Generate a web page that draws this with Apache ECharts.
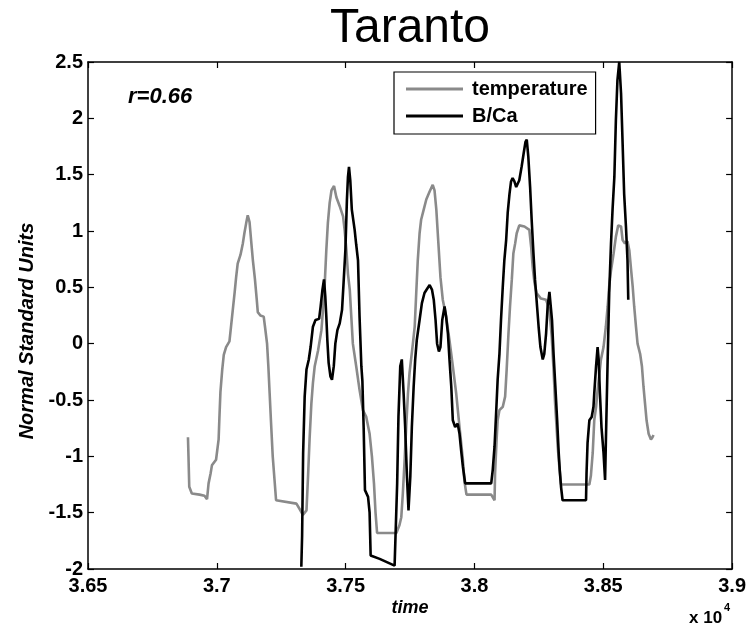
<!DOCTYPE html>
<html>
<head>
<meta charset="utf-8">
<script src="https://cdn.jsdelivr.net/npm/echarts@6/dist/echarts.min.js"></script>
<style>html,body{margin:0;padding:0;background:#fff;}#chart{width:749px;height:630px;}</style>
</head>
<body>
<div id="chart"></div>
<script>
// temperature series (time, normalized value)
const tempTime = [36888,36890,36893,36903,36933,36952,36962,36968,36976,36981,36997,37007,37010,37014,37021,37027,37036,37049,37055,37062,37069,37075,37081,37092,37101,37107,37114,37120,37127,37133,37140,37148,37155,37159,37169,37182,37187,37195,37200,37205,37210,37217,37224,37230,37236,37309,37322,37334,37348,37354,37360,37367,37373,37380,37393,37406,37412,37419,37425,37431,37438,37445,37455,37464,37477,37490,37496,37503,37509,37516,37522,37528,37541,37554,37567,37580,37593,37602,37610,37616,37622,37697,37709,37716,37722,37729,37735,37742,37748,37755,37761,37768,37774,37780,37787,37793,37803,37813,37826,37838,37845,37852,37860,37868,37877,37890,37903,37916,37929,37942,37955,37961,37969,38065,38078,38080,38086,38090,38097,38110,38119,38125,38132,38138,38145,38151,38158,38164,38174,38194,38213,38220,38226,38233,38241,38258,38278,38291,38300,38307,38313,38321,38323,38329,38336,38446,38452,38459,38465,38472,38478,38484,38491,38501,38510,38517,38523,38530,38540,38549,38558,38569,38575,38584,38594,38601,38607,38614,38620,38627,38633,38643,38650,38656,38662,38668,38676,38685,38691,38695];
const tempValue = [-0.83,-1.00,-1.27,-1.33,-1.34,-1.35,-1.38,-1.24,-1.15,-1.08,-1.03,-0.85,-0.66,-0.43,-0.23,-0.10,-0.03,0.02,0.15,0.30,0.45,0.59,0.71,0.79,0.89,0.98,1.07,1.14,1.08,0.92,0.74,0.57,0.39,0.28,0.25,0.24,0.15,0.00,-0.20,-0.44,-0.68,-1.00,-1.21,-1.39,-1.40,-1.42,-1.47,-1.52,-1.48,-1.18,-0.85,-0.53,-0.35,-0.20,-0.06,0.12,0.30,0.54,0.83,1.07,1.25,1.36,1.40,1.30,1.22,1.13,1.01,0.83,0.62,0.48,0.24,0.00,-0.20,-0.41,-0.59,-0.65,-0.80,-1.00,-1.24,-1.50,-1.68,-1.68,-1.61,-1.54,-1.33,-1.03,-0.74,-0.44,-0.26,-0.12,0.00,0.15,0.45,0.74,0.98,1.10,1.19,1.28,1.35,1.41,1.36,1.19,0.89,0.59,0.39,0.24,0.03,-0.20,-0.44,-0.74,-1.03,-1.22,-1.34,-1.34,-1.39,-1.15,-0.85,-0.68,-0.59,-0.56,-0.47,-0.23,0.09,0.33,0.57,0.80,0.89,0.98,1.05,1.04,1.01,0.86,0.68,0.54,0.45,0.40,0.39,0.30,0.06,-0.23,-0.53,-0.83,-0.91,-1.08,-1.25,-1.25,-1.17,-0.97,-0.68,-0.56,-0.41,-0.29,-0.14,-0.03,0.15,0.33,0.51,0.65,0.80,0.95,1.05,1.04,0.92,0.89,0.91,0.83,0.68,0.51,0.33,0.15,0.00,-0.09,-0.20,-0.38,-0.53,-0.68,-0.80,-0.85,-0.83,-0.81];

// B/Ca series (time, normalized value)
const bcaTime = [37328,37331,37335,37341,37348,37357,37364,37373,37383,37397,37403,37410,37416,37421,37425,37429,37434,37441,37447,37454,37460,37468,37477,37486,37492,37499,37505,37509,37513,37518,37524,37535,37541,37548,37554,37561,37565,37570,37575,37587,37593,37597,37632,37690,37695,37700,37705,37712,37718,37725,37731,37738,37744,37751,37757,37764,37770,37776,37787,37796,37806,37817,37826,37835,37842,37849,37855,37862,37868,37875,37884,37890,37897,37903,37910,37916,37925,37935,37942,37948,37955,37964,38065,38071,38078,38084,38090,38097,38103,38110,38116,38123,38129,38136,38142,38148,38155,38162,38168,38174,38183,38191,38198,38203,38209,38216,38222,38229,38235,38243,38249,38256,38265,38271,38278,38284,38291,38297,38301,38307,38314,38321,38327,38331,38336,38342,38433,38435,38439,38446,38455,38462,38465,38472,38478,38482,38487,38493,38501,38507,38510,38517,38523,38530,38536,38543,38549,38555,38562,38569,38575,38581,38588,38594,38597];
const bcaValue = [-1.98,-1.71,-0.97,-0.47,-0.23,-0.14,-0.03,0.15,0.21,0.22,0.33,0.48,0.57,0.42,0.24,0.03,-0.17,-0.29,-0.32,-0.20,0.00,0.12,0.18,0.30,0.54,0.83,1.28,1.48,1.57,1.45,1.19,1.01,0.88,0.74,0.24,-0.20,-0.33,-0.75,-1.30,-1.36,-1.50,-1.88,-1.91,-1.97,-1.97,-1.24,-0.65,-0.20,-0.14,-0.44,-0.74,-1.18,-1.48,-1.18,-0.74,-0.38,-0.14,0.03,0.21,0.36,0.45,0.49,0.52,0.48,0.39,0.21,0.00,-0.07,-0.03,0.21,0.33,0.24,0.09,-0.14,-0.38,-0.68,-0.74,-0.71,-0.80,-0.94,-1.09,-1.24,-1.24,-1.12,-0.91,-0.62,-0.32,-0.09,0.21,0.51,0.74,0.92,1.16,1.33,1.44,1.47,1.44,1.39,1.38,1.45,1.57,1.69,1.79,1.81,1.66,1.39,1.10,0.80,0.57,0.33,0.15,-0.03,-0.14,-0.09,0.09,0.33,0.46,0.45,0.21,-0.09,-0.38,-0.68,-0.97,-1.12,-1.27,-1.39,-1.39,-1.15,-0.88,-0.68,-0.65,-0.56,-0.44,-0.20,-0.03,-0.14,-0.44,-0.74,-0.97,-1.21,-0.88,-0.14,0.45,0.89,1.19,1.48,1.99,2.34,2.50,2.22,1.78,1.33,1.04,0.74,0.39];

const seriesNames = ['temperature', 'B/Ca'];
const seriesColors = ['#8a8a8a', '#000000'];
const xTicks = [36500, 37000, 37500, 38000, 38500, 39000];
const yTicks = [-2, -1.5, -1, -0.5, 0, 0.5, 1, 1.5, 2, 2.5];

const FONT = 'Liberation Sans, Arial, sans-serif';
const zip = (a, b) => a.map((v, i) => [v, b[i]]);

const chart = echarts.init(document.getElementById('chart'), null, {renderer: 'canvas'});

const tickStyle = {show: true, inside: true, length: 6, lineStyle: {color: '#000', width: 1.2}};
const lineStyle = {show: true, onZero: false, lineStyle: {color: '#000', width: 1.5}};

chart.setOption({
  animation: false,
  backgroundColor: '#fff',
  grid: {left: 88, right: 16, top: 62, bottom: 61, containLabel: false},
  legend: {
    orient: 'vertical',
    left: 394,
    top: 72,
    borderColor: '#000',
    borderWidth: 1.2,
    padding: [7, 8, 8, 12],
    itemGap: 7,
    itemWidth: 57,
    itemHeight: 3,
    textStyle: {fontFamily: FONT, fontSize: 20, fontWeight: 'bold', color: '#000', padding: [0, 0, 0, 4]},
    data: seriesNames.map(n => ({name: n, icon: 'rect'}))
  },
  xAxis: [
    {
      type: 'value', min: xTicks[0], max: xTicks[xTicks.length - 1], interval: 500, position: 'bottom',
      axisLine: lineStyle, axisTick: tickStyle, splitLine: {show: false},
      axisLabel: {
        margin: 7, color: '#000', fontFamily: FONT, fontSize: 20, fontWeight: 'bold',
        formatter: v => String(parseFloat((v / 10000).toFixed(2)))
      }
    },
    {
      type: 'value', min: xTicks[0], max: xTicks[xTicks.length - 1], interval: 500, position: 'top',
      axisLine: lineStyle, axisTick: tickStyle, splitLine: {show: false}, axisLabel: {show: false}
    }
  ],
  yAxis: [
    {
      type: 'value', min: yTicks[0], max: yTicks[yTicks.length - 1], interval: 0.5, position: 'left',
      axisLine: lineStyle, axisTick: tickStyle, splitLine: {show: false},
      axisLabel: {margin: 5, color: '#000', fontFamily: FONT, fontSize: 20, fontWeight: 'bold'}
    },
    {
      type: 'value', min: yTicks[0], max: yTicks[yTicks.length - 1], interval: 0.5, position: 'right',
      axisLine: lineStyle, axisTick: tickStyle, splitLine: {show: false}, axisLabel: {show: false}
    }
  ],
  series: [
    {
      name: seriesNames[0], type: 'line', data: zip(tempTime, tempValue),
      symbol: 'none', showSymbol: false,
      lineStyle: {color: seriesColors[0], width: 2.6}, itemStyle: {color: seriesColors[0]}, z: 2
    },
    {
      name: seriesNames[1], type: 'line', data: zip(bcaTime, bcaValue),
      symbol: 'none', showSymbol: false,
      lineStyle: {color: seriesColors[1], width: 2.6}, itemStyle: {color: seriesColors[1]}, z: 3
    }
  ],
  graphic: [
    {
      type: 'text', x: 410, y: 29,
      style: {text: 'Taranto', font: '48px ' + FONT, fill: '#000', align: 'center', verticalAlign: 'middle'}
    },
    {
      type: 'text', left: 128, top: 86,
      style: {text: 'r=0.66', font: 'italic bold 22px ' + FONT, fill: '#000'}
    },
    {
      type: 'text', x: 27, y: 331, rotation: Math.PI / 2,
      style: {text: 'Normal Standard Units', font: 'italic bold 20px ' + FONT, fill: '#000', align: 'center', verticalAlign: 'middle'}
    },
    {
      type: 'text', x: 410, y: 608,
      style: {text: 'time', font: 'italic bold 18px ' + FONT, fill: '#000', align: 'center', verticalAlign: 'middle'}
    },
    {
      type: 'text', left: 689, top: 602,
      style: {
        text: '{b|x 10}{s|4}',
        rich: {
          b: {font: 'bold 17px ' + FONT, fill: '#000', padding: [8, 0, 0, 0]},
          s: {font: 'bold 11px ' + FONT, fill: '#000', verticalAlign: 'top', padding: [0, 0, 10, 2]}
        }
      }
    }
  ]
});
</script>
</body>
</html>
